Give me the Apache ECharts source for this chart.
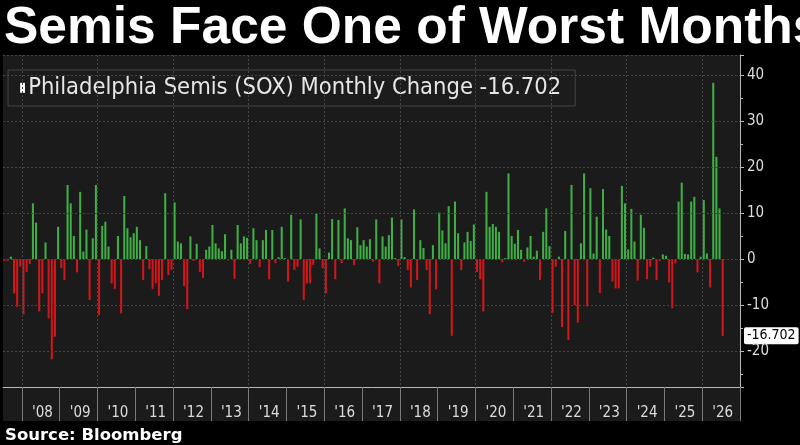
<!DOCTYPE html>
<html>
<head>
<meta charset="utf-8">
<script src="https://cdn.jsdelivr.net/npm/echarts@6/dist/echarts.min.js"></script>
<style>
html,body{margin:0;padding:0;background:#000;}
#chart{width:800px;height:445px;}
</style>
</head>
<body>
<div id="chart"></div>
<script>
// Monthly % change of the Philadelphia Semiconductor index
const years = [2007,2008,2009,2010,2011,2012,2013,2014,2015,2016,2017,2018,2019,2020,2021,2022,2023,2024,2025,2026];
const firstMonth = 7;   // series/axis starts July 2007
const sox2007 = [-0.4, -0.4, 0.5, -7.5, -10.4, -1.7];
const sox2008 = [-12.0, -2.8, -1.1, 12.1, 7.9, -11.4, -7.5, 3.6, -12.9, -21.8, -16.9, 7.0];
const sox2009 = [-2.0, -4.6, 16.1, 12.1, 5.0, -2.9, 14.6, 1.6, 6.4, -8.9, 4.5, 16.1];
const sox2010 = [-12.2, 7.2, 8.1, 2.7, -5.3, -6.5, 5.0, -11.8, 13.7, 6.7, 4.7, 5.6];
const sox2011 = [7.0, 4.1, -4.6, 2.8, -2.2, -6.5, -5.3, -8.0, -4.6, 14.3, -3.5, -2.4];
const sox2012 = [12.3, 3.8, 3.4, -5.9, -10.9, 4.9, -0.4, 3.3, -2.8, -4.1, 2.0, 2.7];
const sox2013 = [7.4, 3.4, 2.3, 1.7, 5.4, -0.3, 2.0, -4.3, 7.4, 3.4, 4.9, 4.6];
const sox2014 = [-1.1, 6.7, 4.1, -1.8, 4.1, 6.3, -4.4, 6.3, -0.9, 0.4, 7.0, 0.2];
const sox2015 = [-4.9, 9.6, -2.4, -1.7, 8.6, -8.9, -5.3, -5.3, -1.3, 9.9, 2.3, -2.0];
const sox2016 = [-7.5, 1.4, 8.7, -4.4, 8.5, -0.9, 11.0, 4.5, 4.1, -1.3, 6.9, 3.0];
const sox2017 = [4.1, 2.7, 4.3, -0.6, 8.6, -5.3, 4.9, 2.7, 5.2, 9.0, 0.2, -1.5];
const sox2018 = [8.6, 0.4, -2.4, -6.2, 10.8, -4.6, 4.1, 2.4, -2.4, -12.0, 3.0, -6.6];
const sox2019 = [10.1, 6.2, 3.4, 11.5, -16.7, 12.5, 5.6, -2.4, 3.6, 5.9, 3.9, 7.5];
const sox2020 = [-2.8, -4.4, -11.4, 14.6, 7.0, 7.6, 7.0, 5.9, -0.7, 0.2, 18.6, 5.0];
const sox2021 = [3.3, 6.3, 2.0, -0.6, 2.5, 5.0, 0.5, 1.8, -4.6, 5.9, 11.0, 2.8];
const sox2022 = [-11.7, -1.7, 0.5, -14.8, 6.1, -17.6, 16.1, -10.0, -13.8, 3.4, 18.6, -10.3];
const sox2023 = [15.4, 1.2, 9.2, -7.4, 15.2, 6.4, 5.0, -4.9, -6.4, -6.4, 15.9, 12.1];
const sox2024 = [2.1, 10.9, 3.8, -4.7, 9.6, 6.8, -4.4, -1.7, 0.3, -4.6, -0.4, 1.0];
const sox2025 = [0.7, -5.1, -10.7, -0.9, 12.5, 16.6, 1.1, 1.0, 12.5, 13.5, -2.9, 0.5];
const sox2026 = [12.8, 1.2, -6.2, 38.3, 22.2, 11.0, -16.702];
const yearValues = [sox2007, sox2008, sox2009, sox2010, sox2011, sox2012, sox2013, sox2014, sox2015, sox2016,
                    sox2017, sox2018, sox2019, sox2020, sox2021, sox2022, sox2023, sox2024, sox2025, sox2026];
const seriesName = 'Philadelphia Semis (SOX) Monthly Change';
const yTickLabels = [-20, -10, 0, 10, 20, 30, 40];

// build month categories and values
const categories = [];
const values = [];
years.forEach((y, yi) => {
  const m0 = (y === years[0]) ? firstMonth : 1;
  for (let m = m0; m <= 12; m++) {
    categories.push(y + '-' + (m < 10 ? '0' + m : m));
    const v = yearValues[yi][m - m0];
    values.push(v === undefined ? null : v);
  }
});
let last = null;
for (let i = values.length - 1; i >= 0; i--) { if (values[i] !== null) { last = values[i]; break; } }

const GREEN = '#3fae45';
const RED = '#d3161b';
const GRIDC = '#464646';
const AXC = '#b8b8b8';
const txtFont = '"DejaVu Sans Condensed","DejaVu Sans",sans-serif';

const monthOf = c => parseInt(c.slice(5), 10);
const yearOf = c => parseInt(c.slice(0, 4), 10);

const chart = echarts.init(document.getElementById('chart'), null, {renderer: 'canvas'});
chart.setOption({
  animation: false,
  backgroundColor: '#000',
  title: [
    {
      text: 'Semis Face One of Worst Months',
      left: 4, top: 3, padding: 0,
      textStyle: {color: '#fff', fontSize: 51.5, fontWeight: 'bold', fontFamily: '"Liberation Sans",Arial,sans-serif'}
    },
    {
      text: 'Source: Bloomberg',
      left: 5, top: 427, padding: 0,
      textStyle: {color: '#fff', fontSize: 16.5, fontWeight: 'bold', fontFamily: '"DejaVu Sans",sans-serif'}
    }
  ],
  legend: {
    left: 8, top: 70,
    padding: [6, 14, 6, 6],
    backgroundColor: '#1c1c1c',
    borderColor: '#444', borderWidth: 1,
    selectedMode: false,
    icon: 'none', itemWidth: 0, itemHeight: 0, itemGap: 5,
    data: [{name: seriesName}],
    formatter: n => '{sq|\u25AE}{gap| }' + n + ' ' + last,
    textStyle: {
      color: '#e6e6e6', fontSize: 23.5, fontFamily: txtFont,
      rich: {
        sq: {color: '#ffffff', fontSize: 13, fontFamily: '"DejaVu Sans",sans-serif'},
        gap: {width: 2, fontSize: 10}
      }
    }
  },
  grid: {
    left: 3, right: 60, top: 55, bottom: 58,
    show: true, backgroundColor: '#1b1b1b', borderWidth: 0
  },
  graphic: [{
    type: 'rect', silent: true, z: 0,
    shape: {x: 3, y: 387, width: 737, height: 34},
    style: {fill: '#1b1b1b'}
  }],
  xAxis: {
    type: 'category', data: categories, boundaryGap: true, z: 5,
    axisLine: {show: true, onZero: false, lineStyle: {color: AXC, width: 1}},
    axisTick: {show: true, length: 34, lineStyle: {color: '#7a7a7a'},
      interval: (i, c) => monthOf(c) === 1},
    axisLabel: {
      interval: (i, c) => monthOf(c) === 7 && yearOf(c) >= 2008,
      formatter: c => "'" + c.slice(2, 4),
      color: '#dcdcdc', fontSize: 15, margin: 19, fontFamily: txtFont
    },
    splitLine: {show: true, interval: (i, c) => monthOf(c) === 1 && yearOf(c) % 2 === 0,
      lineStyle: {color: GRIDC, type: [2, 2], width: 1}}
  },
  yAxis: {
    type: 'value', position: 'right', z: 5,
    min: -27.83, max: 44.35, splitNumber: 5,
    axisLine: {show: true, lineStyle: {color: AXC}},
    axisTick: {show: true, length: 4, lineStyle: {color: AXC}},
    minorTick: {show: true, splitNumber: 2, length: 3, lineStyle: {color: AXC}},
    axisLabel: {
      showMinLabel: false, showMaxLabel: false,
      color: '#dcdcdc', fontSize: 15, margin: 7, fontFamily: txtFont,
      formatter: v => (yTickLabels.indexOf(v) >= 0 ? String(v) : '')
    },
    splitLine: {show: true, lineStyle: {color: GRIDC, type: [2, 2], width: 1}}
  },
  series: [{
    name: seriesName,
    type: 'bar',
    data: values,
    barCategoryGap: '35%',
    itemStyle: {color: p => (p.value >= 0 ? GREEN : RED)},
    markLine: {
      silent: true, symbol: ['none', 'none'],
      lineStyle: {color: 'rgba(0,0,0,0)', width: 0},
      label: {
        show: true, position: 'end', distance: 4,
        formatter: () => String(last),
        color: '#000', backgroundColor: '#fff',
        padding: [2, 3, 1, 3], borderRadius: 2,
        fontSize: 14, fontFamily: txtFont
      },
      data: [{yAxis: last}]
    }
  }]
});
</script>
</body>
</html>
